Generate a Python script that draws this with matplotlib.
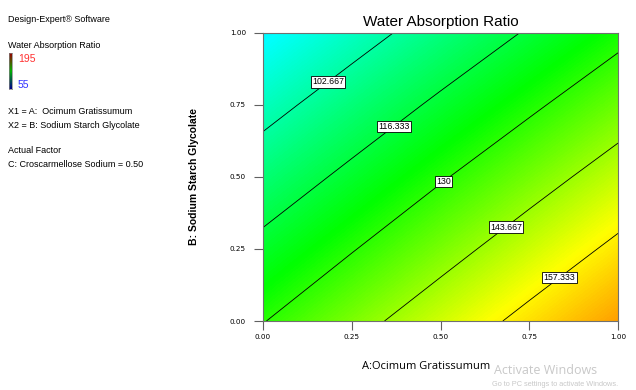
import matplotlib
matplotlib.use('Agg')
import matplotlib.pyplot as plt
import numpy as np
from matplotlib.colors import LinearSegmentedColormap

# valeurs (grille A x B)
a_vals = [0.00, 0.25, 0.50, 0.75, 1.00]
b_vals = [0.00, 0.25, 0.50, 0.75, 1.00]
# lignes = B, colonnes = A
war_b000 = [129.6, 139.9, 150.1, 160.4, 170.6]
war_b025 = [119.4, 129.4, 139.5, 149.6, 159.7]
war_b050 = [109.1, 119.0, 129.0, 138.9, 148.8]
war_b075 = [98.9, 108.6, 118.4, 128.1, 137.9]
war_b100 = [88.6, 98.2, 107.8, 117.4, 127.0]

levels = [102.667, 116.333, 130, 143.667, 157.333]
label_pos = [(0.175, 0.844), (0.358, 0.691), (0.50, 0.50), (0.673, 0.344), (0.825, 0.167)]
ticks = [0.00, 0.25, 0.50, 0.75, 1.00]
tick_labels = ['0.00', '0.25', '0.50', '0.75', '1.00']
zmin, zmax = 55, 195

Z = np.array([war_b000, war_b025, war_b050, war_b075, war_b100])
A = np.array(a_vals)
B = np.array(b_vals)

cmap = LinearSegmentedColormap.from_list(
    'de', [(0, (0, 0, 1)), (0.25, (0, 1, 1)), (0.5, (0, 1, 0)),
           (0.72, (1, 1, 0)), (1, (1, 0, 0))])
cmap_small = LinearSegmentedColormap.from_list(
    'de2', [(0, 0, 0.55), (0, 0.7, 0), (0.6, 0, 0)])

arial = ['Liberation Sans', 'DejaVu Sans']
fs_left = 6.5

fig = plt.figure(figsize=(6.36, 3.90), dpi=100)
ax = fig.add_axes([263/636, 1-321/390, 355/636, 288/390])

# remplissage couleur
da = (A[1]-A[0])/2
db = (B[1]-B[0])/2
ax.imshow(Z, origin='lower', cmap=cmap, vmin=zmin, vmax=zmax,
          extent=(A[0]-da, A[-1]+da, B[0]-db, B[-1]+db),
          interpolation='bilinear', aspect='auto')
cs = ax.contour(A, B, Z, levels=levels, colors='black', linewidths=0.6)
lbls = ax.clabel(cs, fmt={l: ('%g' % l) for l in levels}, manual=label_pos,
                 inline=False, fontsize=6.3)
for t in lbls:
    t.set_rotation(0)
    t.set_family(arial)
    t.set_bbox(dict(boxstyle='square,pad=0.15', fc='white', ec='black', lw=0.6))

ax.set_xlim(0, 1)
ax.set_ylim(0, 1)
ax.set_xticks(ticks)
ax.set_xticklabels(tick_labels)
ax.set_yticks(ticks)
ax.set_yticklabels(tick_labels)
ax.tick_params(axis='both', direction='out', length=6.2, width=0.8, color='#606060',
               labelsize=5.2)
ax.tick_params(axis='y', pad=6)
ax.tick_params(axis='x', pad=3.5)
for sp in ax.spines.values():
    sp.set_color('#707070')
    sp.set_linewidth(0.8)

ax.set_title('Water Absorption Ratio', fontsize=11, family=arial, pad=5)
ax.set_xlabel('A:Ocimum Gratissumum', fontsize=8, family=['Open Sans', 'DejaVu Sans'])
ax.xaxis.set_label_coords(0.459, -0.14)
ax.set_ylabel('B: Sodium Starch Glycolate', fontsize=7.5, family=arial, fontweight='bold')
ax.yaxis.set_label_coords(-0.18, 0.5)

# Personnalisation - texte a gauche
fig.text(8/636, 1-20/390, 'Design-Expert\u00ae Software', fontsize=fs_left, family=arial, va='center')
fig.text(8/636, 1-46/390, 'Water Absorption Ratio', fontsize=fs_left, family=arial, va='center')
cax = fig.add_axes([9/636, 1-89/390, 3/636, 36/390])
cax.imshow(np.linspace(0, 1, 50).reshape(-1, 1), origin='lower', cmap=cmap_small, aspect='auto')
cax.set_xticks([])
cax.set_yticks([])
for sp in cax.spines.values():
    sp.set_color('#808080')
    sp.set_linewidth(0.5)
fig.text(18/636, 1-59/390, '195', fontsize=fs_left+1, family=arial, va='center', color='#ff3030')
fig.text(18/636, 1-85/390, '55', fontsize=fs_left+1, family=arial, va='center', color='#3030ff')
fig.text(8/636, 1-111/390, 'X1 = A:  Ocimum Gratissumum', fontsize=fs_left, family=arial, va='center')
fig.text(8/636, 1-125/390, 'X2 = B: Sodium Starch Glycolate', fontsize=fs_left, family=arial, va='center')
fig.text(8/636, 1-151/390, 'Actual Factor', fontsize=fs_left, family=arial, va='center')
fig.text(8/636, 1-164/390, 'C: Croscarmellose Sodium = 0.50', fontsize=fs_left, family=arial, va='center')

# filigrane
fig.text(494/636, 1-371/390, 'Activate Windows', fontsize=9, color='#c8c8c8',
         family=['Open Sans', 'DejaVu Sans'], va='center')
fig.text(492/636, 1-384/390, 'Go to PC settings to activate Windows.', fontsize=5.3,
         color='#c8c8c8', family=arial, va='center')

fig.savefig('out.png', dpi=100)
